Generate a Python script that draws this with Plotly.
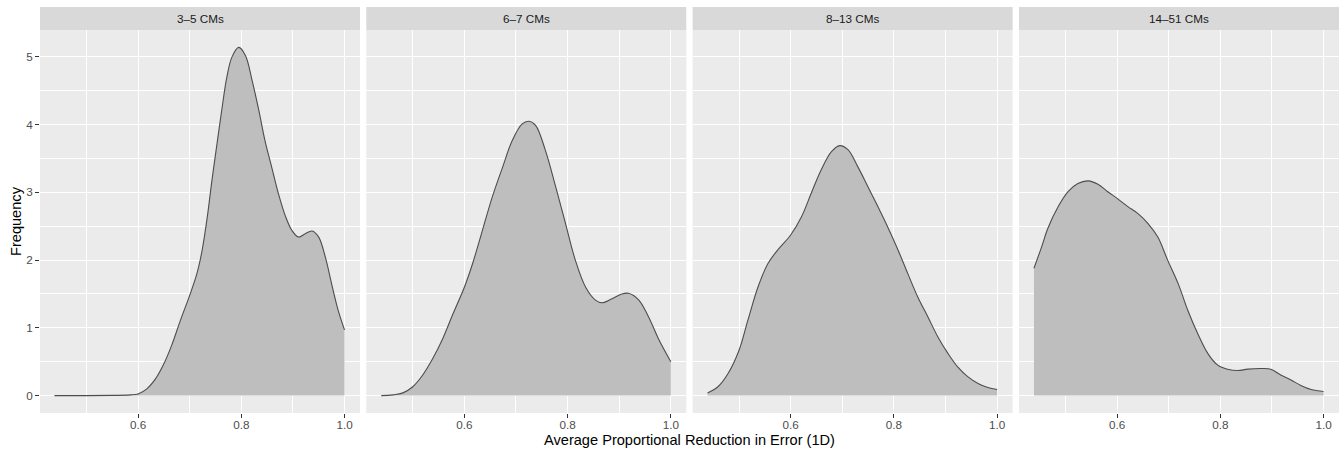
import plotly.graph_objects as go

# ---- data ----
panels = ["3\u20135 CMs", "6\u20137 CMs", "8\u201313 CMs", "14\u201351 CMs"]

x1 = [0.438, 0.50, 0.55, 0.585, 0.60, 0.617, 0.634, 0.65, 0.666, 0.682, 0.70, 0.714, 0.724, 0.734,
      0.743, 0.753, 0.763, 0.772, 0.782, 0.795, 0.808, 0.821, 0.834, 0.846, 0.859, 0.872, 0.885,
      0.898, 0.911, 0.924, 0.937, 0.95, 0.963, 0.975, 0.988, 1.0]
y1 = [0.0, 0.0, 0.003, 0.01, 0.025, 0.1, 0.25, 0.47, 0.76, 1.11, 1.48, 1.8, 2.14, 2.63,
      3.17, 3.72, 4.26, 4.7, 5.0, 5.14, 5.02, 4.65, 4.21, 3.76, 3.37, 2.98, 2.66,
      2.44, 2.34, 2.39, 2.43, 2.34, 2.04, 1.65, 1.25, 0.97]

x2 = [0.439, 0.461, 0.481, 0.50, 0.519, 0.539, 0.558, 0.577, 0.60, 0.616, 0.635, 0.654, 0.674,
      0.693, 0.712, 0.725, 0.738, 0.757, 0.777, 0.796, 0.815, 0.835, 0.854, 0.867, 0.886, 0.905,
      0.918, 0.938, 0.957, 0.976, 1.0]
y2 = [0.0, 0.01, 0.04, 0.13, 0.30, 0.55, 0.84, 1.19, 1.60, 1.95, 2.44, 2.93, 3.37,
      3.77, 4.01, 4.05, 3.99, 3.62, 3.08, 2.54, 2.0, 1.6, 1.41, 1.37, 1.43, 1.5,
      1.51, 1.41, 1.16, 0.84, 0.5]

x3 = [0.439, 0.459, 0.479, 0.50, 0.517, 0.537, 0.556, 0.575, 0.60, 0.621, 0.64, 0.659, 0.679,
      0.695, 0.711, 0.73, 0.75, 0.769, 0.788, 0.808, 0.827, 0.846, 0.866, 0.885, 0.905, 0.924,
      0.943, 0.963, 0.982, 1.0]
y3 = [0.04, 0.13, 0.33, 0.67, 1.11, 1.61, 1.95, 2.15, 2.37, 2.64, 2.99, 3.33, 3.6,
      3.69, 3.63, 3.38, 3.08, 2.79, 2.49, 2.15, 1.8, 1.46, 1.16, 0.87, 0.62, 0.42,
      0.28, 0.18, 0.12, 0.09]

x4 = [0.439, 0.454, 0.466, 0.486, 0.505, 0.524, 0.544, 0.563, 0.582, 0.602, 0.621, 0.64, 0.66,
      0.679, 0.698, 0.718, 0.737, 0.756, 0.776, 0.795, 0.814, 0.834, 0.853, 0.879, 0.898, 0.918,
      0.937, 0.956, 0.976, 1.0]
y4 = [1.88, 2.2, 2.47, 2.79, 3.01, 3.13, 3.17, 3.12, 3.01, 2.9, 2.79, 2.69, 2.54,
      2.34, 2.0, 1.66, 1.26, 0.92, 0.62, 0.45, 0.39, 0.37, 0.39, 0.4, 0.39, 0.3,
      0.23, 0.15, 0.09, 0.06]

xs = [x1, x2, x3, x4]
ys = [y1, y2, y3, y4]

x_ticks = [0.6, 0.8, 1.0]
x_ticktext = ["0.6", "0.8", "1.0"]
y_ticks = [0, 1, 2, 3, 4, 5]

# ---- layout geometry ----
W, H = 1344, 453
ML, MR, MT, MB = 40, 5, 30, 40
PW = W - ML - MR
PH = H - MT - MB
lefts = [40, 366.3, 692.6, 1019]
pwidth = 320
strip_h = 23

FONT = "Liberation Sans, Arial, Helvetica, sans-serif"
SM = 1.0

fig = go.Figure()
layout = dict(
    width=W, height=H,
    margin=dict(l=ML, r=MR, t=MT, b=MB),
    paper_bgcolor="white", plot_bgcolor="#EBEBEB",
    showlegend=False,
    font=dict(family=FONT, size=11.7, color="#4D4D4D"),
    shapes=[], annotations=[],
)

for i in range(4):
    ax = "" if i == 0 else str(i + 1)
    xref = "x" + ax
    yref = "y" + ax
    fig.add_trace(go.Scatter(
        x=xs[i], y=ys[i], mode="lines", line=dict(width=0, shape="spline", smoothing=SM),
        fill="tozeroy", fillcolor="#BEBEBE", xaxis=xref, yaxis=yref, hoverinfo="skip"))
    fig.add_trace(go.Scatter(
        x=xs[i], y=ys[i], mode="lines", line=dict(width=1.1, color="#4D4D4D", shape="spline", smoothing=SM),
        xaxis=xref, yaxis=yref))
    d0 = (lefts[i] - ML) / PW
    d1 = (lefts[i] + pwidth - ML) / PW
    layout["xaxis" + ax] = dict(
        domain=[d0, d1], range=[0.41, 1.03], anchor=yref,
        tickvals=x_ticks, ticktext=x_ticktext, ticks="outside", ticklen=4,
        tickcolor="#333333", tickwidth=1, ticklabelstandoff=-3,
        showgrid=True, gridcolor="white", gridwidth=1.4, zeroline=False, showline=False,
        minor=dict(tickvals=[0.5, 0.7, 0.9], showgrid=True, gridcolor="white", gridwidth=0.7),
        tickfont=dict(size=11.7, color="#4D4D4D"),
    )
    layout["yaxis" + ax] = dict(
        domain=[0, 1], range=[-0.257, 5.397], anchor=xref,
        tickvals=y_ticks, ticks="outside" if i == 0 else "", ticklen=4,
        tickcolor="#333333", tickwidth=1,
        showticklabels=(i == 0),
        showgrid=True, gridcolor="white", gridwidth=1.4, zeroline=False, showline=False,
        minor=dict(tickvals=[0.5, 1.5, 2.5, 3.5, 4.5], showgrid=True, gridcolor="white", gridwidth=0.7),
        tickfont=dict(size=11.7, color="#4D4D4D"),
    )
    layout["shapes"].append(dict(
        type="rect", xref="paper", yref="paper", x0=d0, x1=d1,
        y0=1, y1=1 + strip_h / PH, fillcolor="#D9D9D9", line=dict(width=0), layer="below"))
    layout["annotations"].append(dict(
        text=panels[i], xref="paper", yref="paper", x=(d0 + d1) / 2, y=1 + strip_h / 2 / PH,
        showarrow=False, xanchor="center", yanchor="middle",
        font=dict(size=11.7, color="#1A1A1A", family=FONT)))

layout["annotations"].append(dict(
    text="Average Proportional Reduction in Error (1D)", xref="paper", yref="paper",
    x=(689 - ML) / PW, y=-(440 - (MT + PH)) / PH, showarrow=False,
    xanchor="center", yanchor="middle", font=dict(size=14.6, color="black", family=FONT)))
layout["annotations"].append(dict(
    text="Frequency", xref="paper", yref="paper",
    x=-(ML - 16) / PW, y=0.5 - (221 - (MT + PH / 2)) / PH, showarrow=False, textangle=-90,
    xanchor="center", yanchor="middle", font=dict(size=14.6, color="black", family=FONT)))

fig.update_layout(**layout)
fig.write_html("out.html")
